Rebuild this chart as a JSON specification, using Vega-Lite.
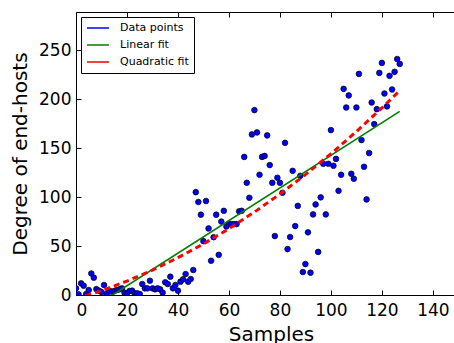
{
  "$schema": "https://vega.github.io/schema/vega-lite/v6.json",
  "width": 390,
  "height": 283,
  "autosize": "none",
  "padding": {"left": 76, "top": 12, "right": 0, "bottom": 48},
  "background": "white",
  "config": {
    "view": {"stroke": "black", "strokeWidth": 1},
    "font": "DejaVu Sans",
    "axis": {
      "grid": false, "domain": false, "tickColor": "black", "tickSize": -5, "tickWidth": 1,
      "labelColor": "black", "labelFont": "DejaVu Sans", "labelFontSize": 17,
      "titleFont": "DejaVu Sans", "titleFontSize": 20, "titleFontWeight": "normal", "titleColor": "black"
    },
    "legend": {
      "orient": "top-left", "offset": 5, "padding": 5, "title": null,
      "strokeColor": "black", "fillColor": "white", "cornerRadius": 0,
      "labelFont": "DejaVu Sans", "labelFontSize": 11, "labelColor": "black",
      "symbolSize": 484, "rowPadding": 5, "clipHeight": 12, "labelOffset": 10, "symbolType": "stroke"
    }
  },
  "datasets": {
    "pts": [
      {"sample":0,"degree":6.8},{"sample":1,"degree":0.7},{"sample":2,"degree":11.9},{"sample":3,"degree":9.5},{"sample":4,"degree":1},{"sample":5,"degree":5.1},{"sample":6,"degree":22},{"sample":7,"degree":17.7},{"sample":8,"degree":6},{"sample":9,"degree":4.4},
      {"sample":10,"degree":3},{"sample":11,"degree":10.2},{"sample":12,"degree":1},{"sample":13,"degree":4.4},{"sample":14,"degree":3.4},{"sample":15,"degree":4.1},{"sample":16,"degree":5.1},{"sample":17,"degree":5.8},{"sample":18,"degree":6.8},{"sample":19,"degree":2.4},
      {"sample":20,"degree":1.7},{"sample":21,"degree":4.1},{"sample":22,"degree":4.4},{"sample":23,"degree":1.7},{"sample":24,"degree":1.7},{"sample":25,"degree":1},{"sample":26,"degree":11.2},{"sample":27,"degree":6.8},{"sample":28,"degree":6.8},{"sample":29,"degree":14.6},
      {"sample":30,"degree":6.8},{"sample":31,"degree":5.8},{"sample":32,"degree":6.8},{"sample":33,"degree":5.8},{"sample":34,"degree":2.4},{"sample":35,"degree":13},{"sample":36,"degree":11.2},{"sample":37,"degree":18.7},{"sample":38,"degree":6.8},{"sample":39,"degree":10.2},
      {"sample":40,"degree":4.4},{"sample":41,"degree":13.6},{"sample":42,"degree":16},{"sample":43,"degree":21.4},{"sample":44,"degree":13.6},{"sample":45,"degree":16.3},{"sample":46,"degree":25.5},{"sample":47,"degree":105},{"sample":48,"degree":95},{"sample":49,"degree":82},
      {"sample":50,"degree":55},{"sample":51,"degree":96},{"sample":52,"degree":68},{"sample":53,"degree":35},{"sample":54,"degree":59},{"sample":55,"degree":82},{"sample":56,"degree":41},{"sample":57,"degree":75},{"sample":58,"degree":86},{"sample":59,"degree":70},
      {"sample":60,"degree":72.4},{"sample":61,"degree":72.4},{"sample":62,"degree":72.4},{"sample":63,"degree":72.4},{"sample":64,"degree":85.4},{"sample":65,"degree":86},{"sample":66,"degree":141},{"sample":67,"degree":114.6},{"sample":68,"degree":99.3},{"sample":69,"degree":164},
      {"sample":70,"degree":188.8},{"sample":71,"degree":166},{"sample":72,"degree":122.8},{"sample":73,"degree":141},{"sample":74,"degree":142},{"sample":75,"degree":163},{"sample":76,"degree":132.7},{"sample":77,"degree":114.6},{"sample":78,"degree":60.2},{"sample":79,"degree":119.7},
      {"sample":80,"degree":114.6},{"sample":81,"degree":104.4},{"sample":82,"degree":155.4},{"sample":83,"degree":46.9},{"sample":84,"degree":59.2},{"sample":85,"degree":126.8},{"sample":86,"degree":70.4},{"sample":87,"degree":91},{"sample":88,"degree":121.7},{"sample":89,"degree":23.5},
      {"sample":90,"degree":31.6},{"sample":91,"degree":64},{"sample":92,"degree":22.8},{"sample":93,"degree":82.3},{"sample":94,"degree":92.5},{"sample":95,"degree":44},{"sample":96,"degree":99.7},{"sample":97,"degree":134},{"sample":98,"degree":82.3},{"sample":99,"degree":134},
      {"sample":100,"degree":168.4},{"sample":101,"degree":132},{"sample":102,"degree":139},{"sample":103,"degree":106.4},{"sample":104,"degree":122.8},{"sample":105,"degree":210.5},{"sample":106,"degree":191.5},{"sample":107,"degree":203.8},{"sample":108,"degree":123.8},{"sample":109,"degree":118.7},
      {"sample":110,"degree":191.5},{"sample":111,"degree":225.8},{"sample":112,"degree":158.2},{"sample":113,"degree":131},{"sample":114,"degree":97.6},{"sample":115,"degree":145},{"sample":116,"degree":196.6},{"sample":117,"degree":174.5},{"sample":118,"degree":189.8},{"sample":119,"degree":226.8},
      {"sample":120,"degree":237},{"sample":121,"degree":205.8},{"sample":122,"degree":192.6},{"sample":123,"degree":223.8},{"sample":124,"degree":209.9},{"sample":125,"degree":227.9},{"sample":126,"degree":241},{"sample":127,"degree":236}
    ],
    "lin": [
      {"sample": 0, "degree": -23.8},
      {"sample": 127, "degree": 187.5}
    ],
    "quad": [
      {"sample": 0, "degree": -4},{"sample": 5, "degree": 0},{"sample": 10, "degree": 4.4},{"sample": 20, "degree": 14.2},{"sample": 30, "degree": 25.4},
      {"sample": 40, "degree": 38.1},{"sample": 50, "degree": 52.2},{"sample": 60, "degree": 67.7},{"sample": 70, "degree": 84.7},{"sample": 80, "degree": 103.1},
      {"sample": 90, "degree": 122.9},{"sample": 100, "degree": 144.2},{"sample": 110, "degree": 166.9},{"sample": 120, "degree": 191},{"sample": 127, "degree": 208.7}
    ]
  },
  "layer": [
    {
      "data": {"name": "pts"},
      "mark": {"type": "point", "filled": true, "size": 32, "stroke": "black", "strokeWidth": 0.7, "opacity": 1, "clip": true},
      "encoding": {
        "x": {"field": "sample", "type": "quantitative", "scale": {"domain": [0, 153], "nice": false, "zero": false},
              "axis": {"orient": "bottom", "title": "Samples", "values": [0,20,40,60,80,100,120,140], "labelPadding": 12, "titlePadding": 6}},
        "y": {"field": "degree", "type": "quantitative", "scale": {"domain": [0, 289], "nice": false},
              "axis": {"title": "Degree of end-hosts", "values": [0,50,100,150,200,250], "labelPadding": 10, "titlePadding": 8}},
        "color": {"datum": "Data points",
          "scale": {"domain": ["Data points", "Linear fit", "Quadratic fit"], "range": ["#0000ff", "#008000", "#ff0000"]},
          "legend": {
            "encode": {
              "symbols": {
                "strokeWidth": {"condition": [{"test": "datum.value === 'Data points'", "value": 6.6}, {"test": "datum.value === 'Linear fit'", "value": 1.7}], "value": 3},
                "strokeDash": {"condition": [{"test": "datum.value === 'Quadratic fit'", "value": [5, 3.5]}, {"test": "datum.value === 'Data points'", "value": [0.01, 16]}], "value": [1, 0]},
                "strokeDashOffset": {"condition": {"test": "datum.value === 'Data points'", "value": 13}, "value": 0},
                "strokeCap": {"condition": {"test": "datum.value === 'Data points'", "value": "round"}, "value": "butt"}
              }
            }
          }
        }
      }
    },
    {
      "data": {"name": "lin"},
      "mark": {"type": "line", "strokeWidth": 1.7, "clip": true},
      "encoding": {
        "x": {"field": "sample", "type": "quantitative", "axis": {"orient": "top", "labels": false, "title": null, "values": [0,20,40,60,80,100,120,140]}},
        "y": {"field": "degree", "type": "quantitative"},
        "color": {"datum": "Linear fit"}
      }
    },
    {
      "data": {"name": "quad"},
      "mark": {"type": "line", "strokeWidth": 3, "strokeDash": [6, 4], "clip": true},
      "encoding": {
        "x": {"field": "sample", "type": "quantitative", "axis": null},
        "y": {"field": "degree", "type": "quantitative"},
        "color": {"datum": "Quadratic fit"}
      }
    }
  ]
}
